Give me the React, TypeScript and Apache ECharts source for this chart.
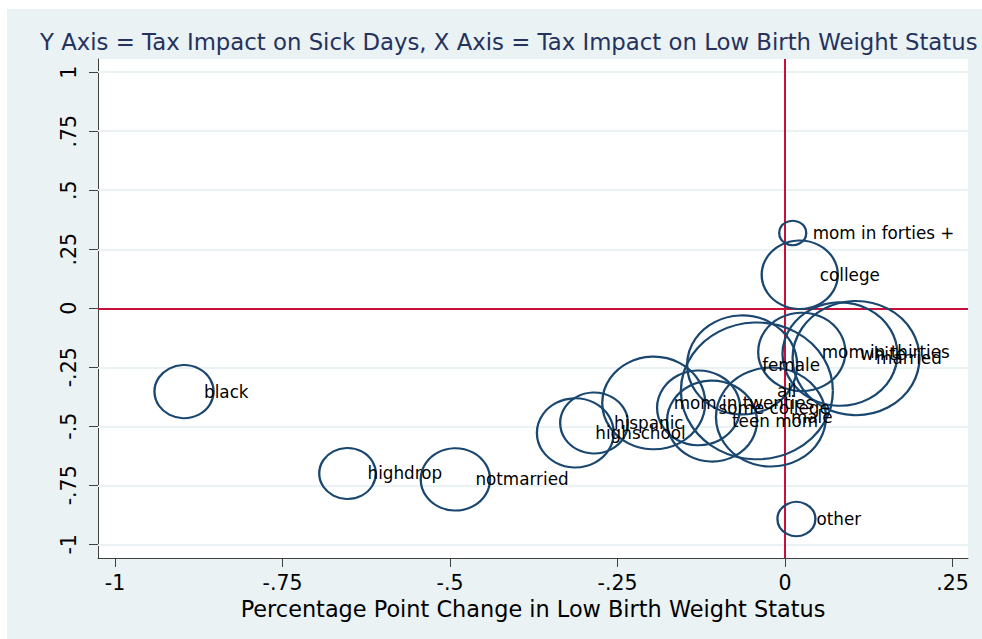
import React, { useEffect, useRef } from "react";
import * as echarts from "echarts";

const groups = [
  "black", "highdrop", "notmarried", "highschool", "hispanic",
  "mom in twenties", "some college", "teen mom", "all", "female",
  "male", "mom in thirties", "white", "married", "college",
  "mom in forties +", "other",
];
const lbwChange = [
  -0.897, -0.653, -0.492, -0.313, -0.285,
  -0.196, -0.129, -0.109, -0.042, -0.064,
  -0.021, 0.025, 0.082, 0.106, 0.022,
  0.0115, 0.017,
];
const sickDaysChange = [
  -0.353, -0.700, -0.725, -0.528, -0.486,
  -0.401, -0.422, -0.478, -0.350, -0.240,
  -0.461, -0.185, -0.194, -0.211, 0.142,
  0.319, -0.893,
];
const weights = [
  35, 32, 48, 59, 46,
  106, 69, 81, 231, 121,
  121, 76, 132, 161, 58,
  7.3, 14.4,
];
const xTicks = [-1, -0.75, -0.5, -0.25, 0, 0.25];
const yTicks = [-1, -0.75, -0.5, -0.25, 0, 0.25, 0.5, 0.75, 1];

const TITLE = "Y Axis = Tax Impact on Sick Days, X Axis = Tax Impact on Low Birth Weight Status";
const X_NAME = "Percentage Point Change in Low Birth Weight Status";

const FONT = "'DejaVu Sans', Verdana, sans-serif";
const BG = "#eaf2f3";
const NAVY = "#1a476f";
const RED = "#c8103a";

const fmt = (v: number) => (v === 0 ? "0" : String(v).replace("0.", "."));

export default function App() {
  const ref = useRef<HTMLDivElement>(null);
  useEffect(() => {
    if (!ref.current) return;
    const chart = echarts.init(ref.current, undefined, { renderer: "svg" });
    const data = groups.map((g, i) => ({
      name: g,
      value: [lbwChange[i], sickDaysChange[i], weights[i]],
    }));
    chart.setOption({
      animation: false,
      backgroundColor: BG,
      title: {
        text: TITLE,
        left: 28,
        top: 16,
        textStyle: { fontFamily: FONT, fontSize: 22.8, fontWeight: "normal", color: "#26325e" },
      },
      grid: {
        left: 91,
        top: 50,
        width: 870,
        height: 499,
        show: true,
        backgroundColor: "#ffffff",
        borderWidth: 0,
      },
      xAxis: {
        type: "value",
        min: -1.0254,
        max: 0.2731,
        name: X_NAME,
        nameLocation: "middle",
        nameGap: 35,
        nameTextStyle: { fontFamily: FONT, fontSize: 22.4, color: "#000" },
        axisLine: { show: true, onZero: false, lineStyle: { color: "#404040", width: 1 } },
        axisTick: { show: true, length: 9, customValues: xTicks, lineStyle: { color: "#404040" } },
        axisLabel: {
          customValues: xTicks,
          formatter: fmt,
          fontFamily: FONT,
          fontSize: 20.5,
          color: "#000",
          margin: 14,
        },
        splitLine: { show: false },
      },
      yAxis: {
        type: "value",
        min: -1.058,
        max: 1.056,
        axisLine: { show: true, onZero: false, lineStyle: { color: "#404040", width: 1 } },
        axisTick: { show: true, length: 9, customValues: yTicks, lineStyle: { color: "#404040" } },
        axisLabel: {
          customValues: yTicks,
          formatter: fmt,
          rotate: 90,
          fontFamily: FONT,
          fontSize: 20.5,
          color: "#000",
          margin: 19,
        },
        splitLine: { show: false },
      },
      series: [
        {
          type: "scatter",
          data: [],
          silent: true,
          markLine: {
            silent: true,
            symbol: "none",
            z: 1,
            label: { show: false },
            lineStyle: { color: BG, width: 2, type: "solid" },
            data: yTicks.filter((v) => v !== 0).map((v) => ({ yAxis: v })),
          },
        },
        {
          type: "scatter",
          data: [],
          silent: true,
          markLine: {
            silent: true,
            symbol: "none",
            z: 1,
            label: { show: false },
            lineStyle: { color: RED, width: 2, type: "solid" },
            data: [{ xAxis: 0 }, { yAxis: 0 }],
          },
        },
        {
          type: "scatter",
          z: 3,
          data,
          symbol: "circle",
          symbolSize: (val: number[]) => {
            const d = Math.sqrt(val[2]) * 10;
            return [d, d * 0.9];
          },
          itemStyle: { color: "rgba(0,0,0,0)", borderColor: NAVY, borderWidth: 2.2, opacity: 1 },
          label: {
            show: true,
            position: "inside",
            align: "left",
            verticalAlign: "middle",
            offset: [20, 0],
            formatter: "{b}",
            fontFamily: FONT,
            fontSize: 16.8,
            color: "#000",
          },
        },
      ],
    });
    return () => chart.dispose();
  }, []);
  return (
    <div style={{ position: "absolute", left: 0, top: 0, width: 982, height: 639, background: "#ffffff" }}>
      <div ref={ref} style={{ position: "absolute", left: 7, top: 9, width: 975, height: 630 }} />
    </div>
  );
}
